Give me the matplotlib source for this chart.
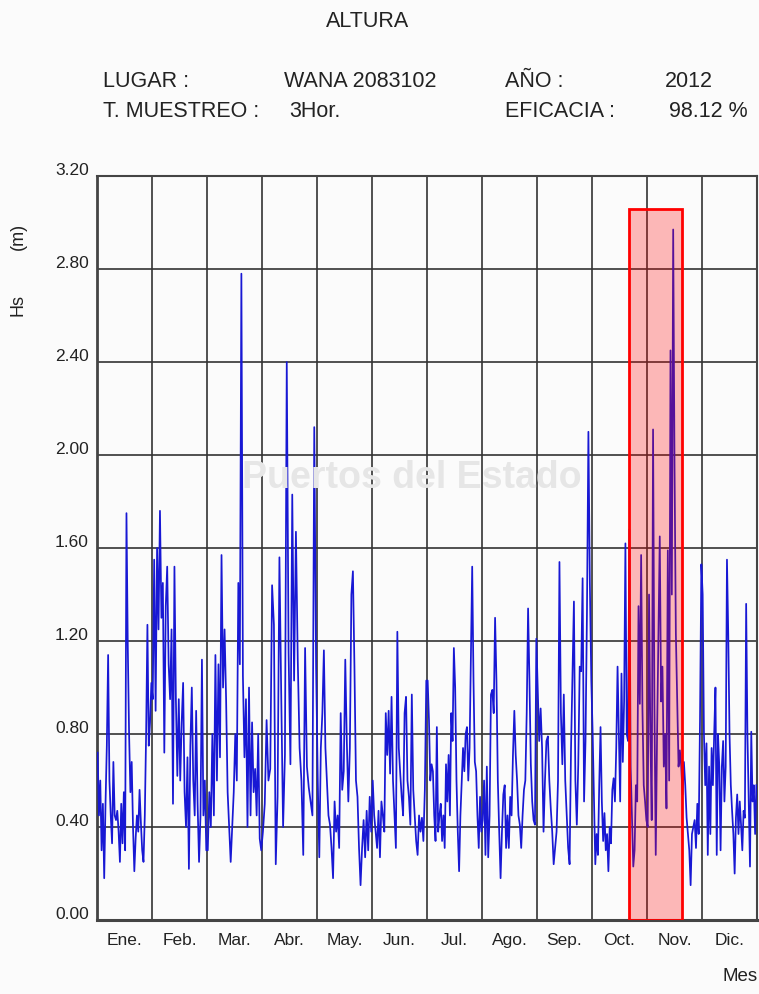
#!/usr/bin/env python3
import numpy as np
import matplotlib
matplotlib.use("Agg")
import matplotlib.pyplot as plt
import matplotlib.transforms as mtransforms
from matplotlib.patches import Rectangle

# Hs (m), valores por mes (espaciados uniformemente dentro del mes)
ene = [0.72, 0.45, 0.60, 0.30, 0.50, 0.18, 0.50, 0.75, 1.14, 0.60, 0.45, 0.33, 0.68, 0.45,
       0.43, 0.47, 0.38, 0.25, 0.50, 0.33, 0.55, 0.30, 1.75, 1.18, 0.80, 0.55, 0.68, 0.40,
       0.21, 0.35, 0.45, 0.38, 0.56, 0.42, 0.30, 0.25, 0.45, 0.80, 1.27, 0.75, 0.85, 1.02]
feb = [0.95, 1.55, 0.90, 1.60, 1.25, 1.76, 1.30, 1.45, 0.72, 1.35, 1.52, 1.10, 0.95, 1.25,
       0.50, 1.52, 0.95, 0.62, 0.95, 0.60, 0.85, 1.02, 0.55, 0.40, 0.70, 0.22, 0.75, 1.00,
       0.60, 0.45, 0.90, 0.50, 0.25, 0.45, 1.12, 0.45, 0.60, 0.30]
mar = [0.30, 0.55, 0.40, 0.80, 0.45, 1.14, 0.60, 1.10, 0.70, 1.57, 1.00, 1.25, 0.95, 0.55,
       0.40, 0.25, 0.40, 0.55, 0.80, 0.60, 1.45, 1.10, 2.78, 1.05, 0.70, 0.95, 0.40, 1.00,
       0.45, 0.85, 0.55, 0.65, 0.45, 0.80, 0.35, 0.30]
abr = [0.38, 0.50, 0.86, 0.60, 0.65, 1.44, 1.27, 0.24, 0.53, 1.56, 0.96, 0.40, 0.71, 2.40,
       1.15, 0.67, 1.83, 1.03, 1.67, 1.12, 0.74, 0.60, 0.28, 1.17, 0.66, 0.57, 0.51, 0.45,
       2.12, 1.09]
may = [0.60, 0.27, 0.74, 0.89, 1.16, 0.74, 0.60, 0.45, 0.41, 0.31, 0.18, 0.51, 0.38, 0.45,
       0.31, 0.89, 0.56, 0.64, 1.12, 0.77, 0.51, 0.74, 1.40, 1.50, 1.09, 0.60, 0.53, 0.31,
       0.15, 0.31, 0.43, 0.27, 0.47, 0.30, 0.53, 0.38]
jun = [0.60, 0.45, 0.38, 0.31, 0.47, 0.27, 0.51, 0.45, 0.38, 0.89, 0.71, 0.90, 0.63, 0.96,
       0.60, 0.45, 0.31, 1.24, 0.74, 0.63, 0.53, 0.45, 0.89, 0.96, 0.60, 0.53, 0.41, 0.97,
       0.56, 0.45, 0.34, 0.28, 0.45, 0.38, 0.44, 0.34, 0.56, 1.03]
jul = [1.03, 0.86, 0.60, 0.67, 0.64, 0.45, 0.34, 0.83, 0.38, 0.45, 0.50, 0.34, 0.45, 0.31,
       0.67, 0.51, 0.71, 0.45, 0.89, 0.77, 1.17, 1.00, 0.60, 0.38, 0.21, 0.45, 0.60, 0.74,
       0.64, 0.80, 0.83, 0.60, 0.74, 1.14, 1.52, 1.03, 0.68, 0.64, 0.45, 0.31, 0.53, 0.38]
ago = [0.43, 0.60, 0.28, 0.66, 0.27, 0.45, 0.97, 0.99, 0.89, 1.30, 1.03, 0.60, 0.38, 0.18,
       0.38, 0.54, 0.58, 0.31, 0.45, 0.31, 0.53, 0.45, 0.71, 0.90, 0.71, 0.60, 0.45, 0.41,
       0.31, 0.45, 0.56, 0.60, 0.89, 1.34, 1.03, 0.67, 0.51, 0.43, 0.41, 1.21]
sep = [1.00, 0.77, 0.91, 0.74, 0.38, 0.60, 0.77, 0.79, 0.60, 0.48, 0.38, 0.24, 0.31, 0.38,
       0.60, 1.54, 0.89, 0.67, 0.97, 0.60, 0.45, 0.31, 0.24, 0.74, 1.06, 1.37, 0.60, 0.41,
       0.67, 1.09, 1.07, 1.47, 0.51, 0.77, 1.32, 2.10, 1.45, 1.03]
octu = [0.80, 0.51, 0.24, 0.37, 0.28, 0.58, 0.83, 0.51, 0.34, 0.46, 0.30, 0.37, 0.21, 0.40,
        0.33, 0.56, 0.61, 0.51, 0.74, 1.09, 0.80, 0.51, 1.06, 0.68, 0.94, 1.62, 0.80, 0.77,
        1.68, 0.66, 0.44, 0.23, 0.30, 0.58, 0.51, 1.35, 0.93, 1.57, 0.91, 0.58, 0.51, 0.43]
nov = [0.40, 1.40, 0.80, 0.43, 2.11, 0.94, 0.28, 0.80, 1.23, 1.65, 0.94, 1.09, 0.66, 0.80,
       0.48, 1.59, 0.60, 2.45, 1.40, 2.97, 1.95, 1.23, 0.94, 0.66, 0.73, 0.66, 0.54, 0.68,
       0.58, 0.44, 0.37, 0.30, 0.15, 0.37, 0.40, 0.43, 0.31, 0.50, 0.37, 0.86, 1.53]
dic = [1.40, 0.80, 0.58, 0.76, 0.28, 0.66, 0.37, 0.74, 0.58, 0.80, 1.00, 0.28, 0.80, 0.66,
       0.30, 0.66, 0.77, 0.51, 0.66, 1.55, 1.23, 0.80, 0.58, 0.47, 0.37, 0.20, 0.44, 0.54,
       0.37, 0.51, 0.41, 0.30, 0.47, 0.44, 1.36, 0.80, 0.51, 0.23, 0.81, 0.51, 0.58, 0.37, 0.58]

meses = ["Ene.", "Feb.", "Mar.", "Abr.", "May.", "Jun.",
         "Jul.", "Ago.", "Sep.", "Oct.", "Nov.", "Dic."]
yticks = [0.0, 0.4, 0.8, 1.2, 1.6, 2.0, 2.4, 2.8, 3.2]

# zona resaltada (en unidades de mes) y su altura
zona_ini = 9.67
zona_fin = 10.64
zona_alto = 3.06

datos = [ene, feb, mar, abr, may, jun, jul, ago, sep, octu, nov, dic]
xs = []
ys = []
for m, vals in enumerate(datos):
    n = len(vals)
    xs.extend(m + (np.arange(n) + 0.5) / n)
    ys.extend(vals)

plt.rcParams["font.family"] = ["Liberation Sans", "DejaVu Sans"]

fig = plt.figure(figsize=(7.59, 9.94), dpi=100, facecolor="#fbfbfb")
ax = fig.add_axes([0.1278, 0.0744, 0.8696, 0.7485])
ax.set_facecolor("#fbfbfb")

# marca de agua
fig.text(0.542, 0.519, "Puertos del Estado", fontsize=27, color="#e6e6e6",
         ha="center", va="center", fontweight="bold", zorder=0)
fig.add_artist(plt.Line2D([0.23, 0.85], [0.477, 0.477], color="#fbe8bf", lw=1.5, zorder=0))

ax.plot(xs, ys, color="#1818d4", lw=1.25, zorder=3)

ax.add_patch(Rectangle((zona_ini, 0), zona_fin - zona_ini, zona_alto,
                       facecolor="red", alpha=0.27, edgecolor="none", zorder=4))
ax.add_patch(Rectangle((zona_ini, 0), zona_fin - zona_ini, zona_alto,
                       facecolor="none", edgecolor="red", lw=2, zorder=5))

ax.set_xlim(0, 12)
ax.set_ylim(0, 3.2)
ax.set_xticks(range(13))
ax.set_xticklabels([])
ax.set_xticks([m + 0.5 for m in range(12)], minor=True)
ax.set_xticklabels(meses, minor=True, fontsize=12.5, color="#222222")
ax.set_yticks(yticks)
ax.set_yticklabels(["%.2f" % v for v in yticks], fontsize=12.5, color="#222222")
ax.tick_params(axis="both", which="both", length=0)
ax.tick_params(axis="x", which="minor", pad=9)
ax.tick_params(axis="y", pad=6)
off = mtransforms.ScaledTranslation(0, 5 / 72, fig.dpi_scale_trans)
for lab in ax.get_yticklabels():
    lab.set_transform(lab.get_transform() + off)

ax.grid(True, which="major", color="#333333", lw=1.2, zorder=1)
for s in ax.spines.values():
    s.set_color("#444444")
    s.set_linewidth(1.5)
ax.spines["bottom"].set_linewidth(2.2)
ax.spines["left"].set_linewidth(2.0)

# cabecera
fs = 15.5
fig.text(0.484, 0.978, "ALTURA", fontsize=fs, ha="center", va="center", color="#222222")
fig.text(0.136, 0.918, "LUGAR :", fontsize=fs, va="center", color="#222222")
fig.text(0.374, 0.918, "WANA 2083102", fontsize=fs, va="center", color="#222222")
fig.text(0.665, 0.918, "AÑO :", fontsize=fs, va="center", color="#222222")
fig.text(0.876, 0.918, "2012", fontsize=fs, va="center", color="#222222")
fig.text(0.136, 0.888, "T. MUESTREO :", fontsize=fs, va="center", color="#222222")
fig.text(0.381, 0.888, "3Hor.", fontsize=fs, va="center", color="#222222")
fig.text(0.665, 0.888, "EFICACIA :", fontsize=fs, va="center", color="#222222")
fig.text(0.882, 0.888, "98.12 %", fontsize=fs, va="center", color="#222222")

fig.text(0.024, 0.693, "Hs", fontsize=13, rotation=90, ha="center", va="center", color="#222222")
fig.text(0.024, 0.762, "(m)", fontsize=13, rotation=90, ha="center", va="center", color="#222222")
fig.text(0.975, 0.009, "Mes", fontsize=13.5, ha="center", va="bottom", color="#222222")

fig.savefig("out.png", dpi=100, facecolor=fig.get_facecolor())
